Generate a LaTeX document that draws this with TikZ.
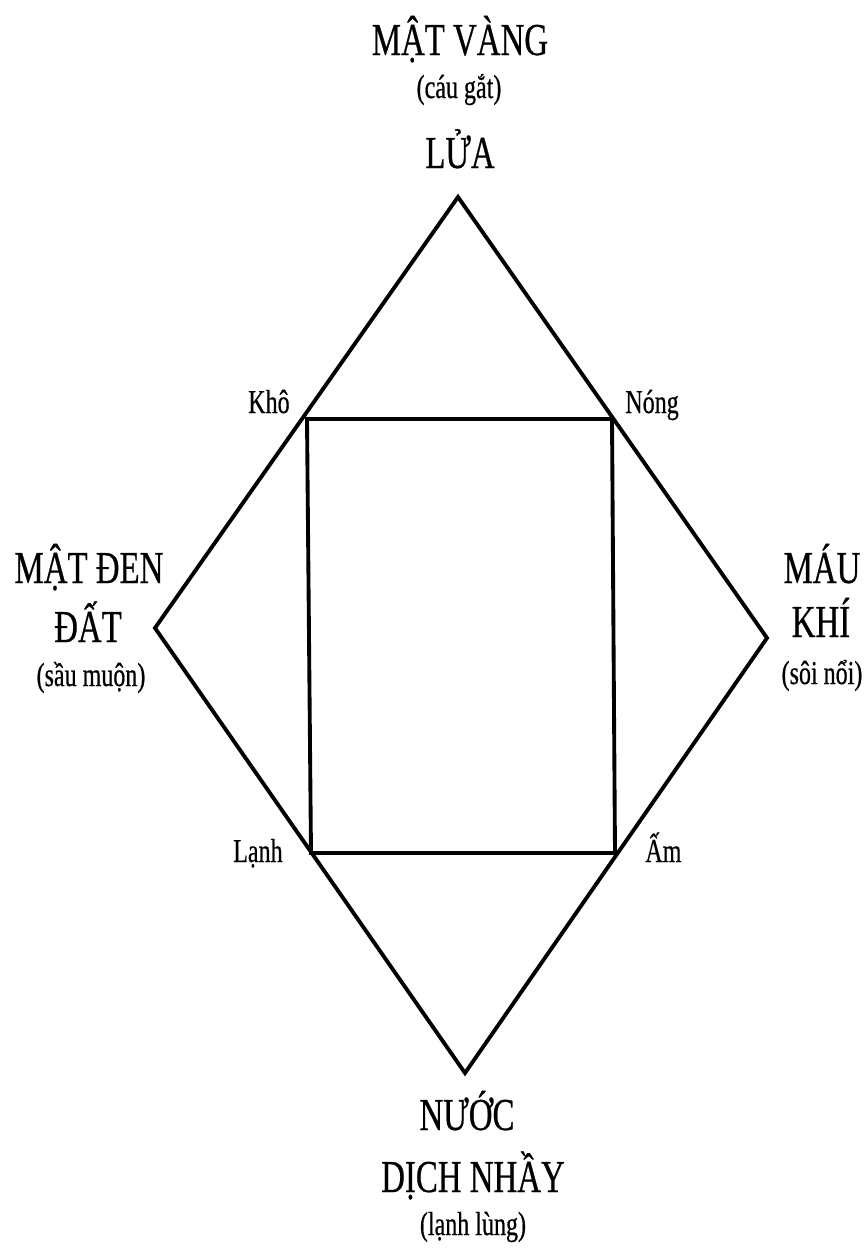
\documentclass[tikz,border=0pt]{standalone}
\usepackage{fontspec}
\setmainfont{Liberation Serif}[FakeStretch=0.72]
\newfontfamily\labelfont{Liberation Serif}[FakeStretch=0.72, FakeBold=0.5]
\usetikzlibrary{positioning}

\begin{document}
\begin{tikzpicture}[
    x=0.02cm, y=-0.02cm,
    edge/.style={line width=2.2pt, line join=miter},
    big/.style={font=\labelfont\fontsize{26}{30}\selectfont, anchor=base, inner sep=0pt},
    small/.style={font=\labelfont\fontsize{19}{22}\selectfont, anchor=base, inner sep=0pt}
  ]
  \useasboundingbox (0,0) rectangle (868,1252);

  % Diamond of the elements
  \coordinate (fire)  at (458,197);
  \coordinate (air)   at (767,638);
  \coordinate (water) at (465,1073);
  \coordinate (earth) at (155,628);
  \draw[edge] (fire) -- (air) -- (water) -- (earth) -- cycle;

  % Square of the qualities
  \coordinate (dry)  at (307,419);
  \coordinate (hot)  at (612,419);
  \coordinate (warm) at (615,853);
  \coordinate (cold) at (311,853);
  \draw[edge] (dry) -- (hot) -- (warm) -- (cold) -- cycle;

  % Top
  \node[big]   (yellowbile) at (460,55)  {MẬT VÀNG};
  \node[small] (choleric)   at (459,98)  {(cáu gắt)};
  \node[big]   (firelbl)    at (460,168) {LỬA};

  % Left
  \node[big]   (blackbile)  at (89,583)  {MẬT ĐEN};
  \node[big]   (earthlbl)   at (88,642)  {ĐẤT};
  \node[small] (melancholic) at (91,686) {(sầu muộn)};

  % Right
  \node[big]   (blood)      at (822,583) {MÁU};
  \node[big]   (airlbl)     at (821,637) {KHÍ};
  \node[small] (sanguine)   at (822,684) {(sôi nổi)};

  % Bottom
  \node[big]   (waterlbl)   at (467,1130) {NƯỚC};
  \node[big]   (phlegm)     at (473,1192) {DỊCH NHẦY};
  \node[small] (phlegmatic) at (473,1235) {(lạnh lùng)};

  % Qualities at the corners
  \node[small, anchor=base east] (drylbl)  at (290,413) {Khô};
  \node[small, anchor=base west] (hotlbl)  at (625,413) {Nóng};
  \node[small, anchor=base east] (coldlbl) at (283,862) {Lạnh};
  \node[small, anchor=base west] (warmlbl) at (645,862) {Ấm};
\end{tikzpicture}
\end{document}
